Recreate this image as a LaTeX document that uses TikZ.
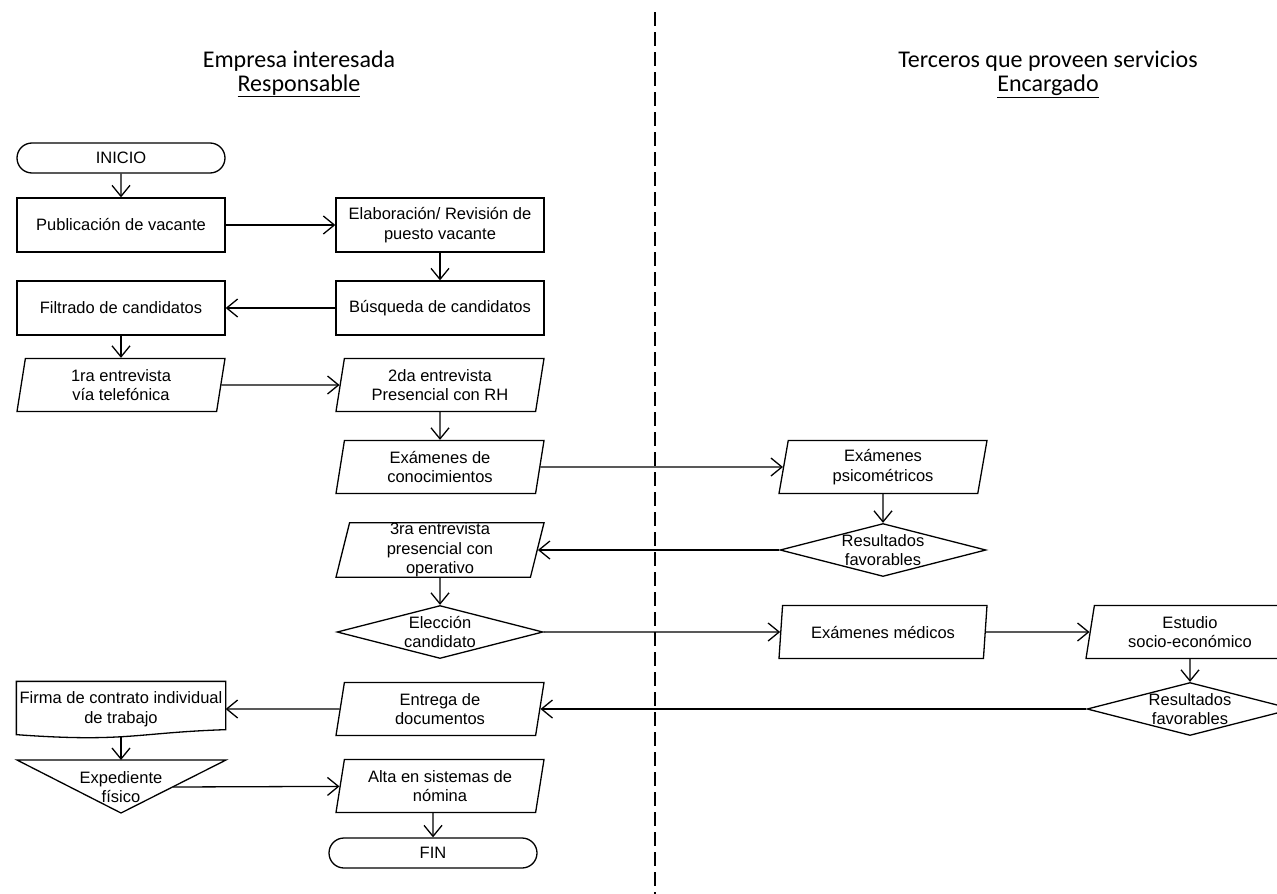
\documentclass[tikz,border=0pt]{standalone}
\usepackage{fontspec}
\setmainfont{Liberation Sans}
\newfontfamily\headfont{Carlito}
\usepackage{tikz}
\usetikzlibrary{positioning}
\usetikzlibrary{arrows.meta,shapes.geometric,shapes.misc}

\tikzset{
	>={Straight Barb[length=11pt,width=18pt]},
	base/.style={draw, line width=1.3pt, align=center, font=\fontsize{16.5}{19.5}\selectfont},
	proc/.style={base, rectangle, minimum width=208pt, minimum height=54pt, inner sep=1pt},
	io/.style={base, trapezium, trapezium left angle=76, trapezium right angle=104,
		trapezium stretches body, minimum width=208pt, minimum height=53pt, inner sep=1pt},
	term/.style={base, rounded rectangle, minimum width=208pt, minimum height=30pt, inner sep=0pt},
	dec/.style={base, diamond, minimum width=206pt, minimum height=53pt, inner sep=0pt},
	txt/.style={align=center, font=\fontsize{16.5}{19.5}\selectfont, inner sep=0pt},
	head/.style={align=center, font=\headfont\fontsize{24}{24}\selectfont},
	flow/.style={->, line width=1.3pt},
}

\begin{document}
\begin{tikzpicture}[x=1pt, y=-1pt, on grid]
	\clip (0,0) rectangle (1277,894);
	\node[head] (empresa) at (299,74) {Empresa interesada\\\underline{Responsable}};
	\node[head] (terceros) at (1048,74) {Terceros que proveen servicios\\\underline{Encargado}};
	\draw[line width=1.5pt, dash pattern=on 14pt off 6pt] (655,12) -- (655,894);

	\node[term] (inicio) at (121,158) {INICIO};
	\node[proc] (pub) [below=67pt of inicio] {Publicación de vacante};
	\node[proc] (elab) [right=319pt of pub] {Elaboración/ Revisión de\\puesto vacante};
	\node[proc] (busq) [below=83pt of elab] {Búsqueda de candidatos};
	\node[proc] (filt) [left=319pt of busq] {Filtrado de candidatos};
	\node[io] (ent1) [below=77pt of filt] {1ra entrevista\\vía telefónica};
	\node[io] (ent2) [right=319pt of ent1] {2da entrevista\\Presencial con RH};
	\node[io] (conoc) [below=82pt of ent2] {Exámenes de\\conocimientos};
	\node[io] (psico) [right=443pt of conoc] {Exámenes\\psicométricos};
	\node[dec, label={[txt]center:{Resultados\\favorables}}] (res1) [below=83pt of psico] {};
	\node[io, inner ysep=0pt] (ent3) [below=83pt of conoc] {3ra entrevista\\presencial con\\operativo};
	\node[dec, label={[txt]center:{Elección\\candidato}}] (elec) [below=82pt of ent3] {};
	\node[io] (medic) [right=443pt of elec] {Exámenes médicos};
	\node[io] (estud) [right=307pt of medic] {Estudio\\socio-económico};
	\node[dec, label={[txt]center:{Resultados\\favorables}}] (res2) [below=77pt of estud] {};
	\node[io] (entreg) [below=77pt of elec] {Entrega de\\documentos};
	\node[proc, draw=none] (firma) [left=319pt of entreg] {Firma de contrato individual\\de trabajo};
	\node[txt] (exped) [below=78pt of firma] {Expediente\\físico};
	\node[io] (alta) [below=77pt of entreg] {Alta en sistemas de\\nómina};
	\node[term] (fin) [below=67pt of alta, xshift=-7pt] {FIN};

	% documento y archivo
	\draw[line width=1.3pt] (firma.north west) -- (firma.north east) -- ([shift={(0,-7)}]firma.south east)
		.. controls ([shift={(-90,-4)}]firma.south east) and ([shift={(110,6)}]firma.south west)
		.. ([shift={(0,-2)}]firma.south west) -- cycle;
	\coordinate (expedtl) at ([shift={(-104,-27)}]exped.center);
	\coordinate (expedtr) at ([shift={(105,-27)}]exped.center);
	\coordinate (expedb) at ([shift={(0,26)}]exped.center);
	\coordinate (expedtop) at ([shift={(0,-27)}]exped.center);
	\coordinate (expedR) at ([shift={(52,0)}]exped.center);
	\draw[line width=1.3pt] (expedtl) -- (expedtr) -- (expedb) -- cycle;

	\draw[flow] (inicio) -- (pub);
	\draw[flow] (pub) -- (elab);
	\draw[flow] (elab) -- (busq);
	\draw[flow] (busq) -- (filt);
	\draw[flow] (filt) -- (ent1);
	\draw[flow] (ent1) -- (ent2);
	\draw[flow] (ent2) -- (conoc);
	\draw[flow] (conoc) -- (psico);
	\draw[flow] (psico) -- (res1);
	\draw[flow] (res1) -- (ent3);
	\draw[flow] (ent3) -- (elec);
	\draw[flow] (elec) -- (medic);
	\draw[flow] (medic) -- (estud);
	\draw[flow] (estud) -- (res2);
	\draw[flow] (res2) -- (entreg);
	\draw[flow] (entreg) -- (firma);
	\draw[flow] (firma.south) -- (expedtop);
	\draw[flow] (expedR) -- (alta);
	\draw[flow] (alta.south -| fin.north) -- (fin);
\end{tikzpicture}
\end{document}
